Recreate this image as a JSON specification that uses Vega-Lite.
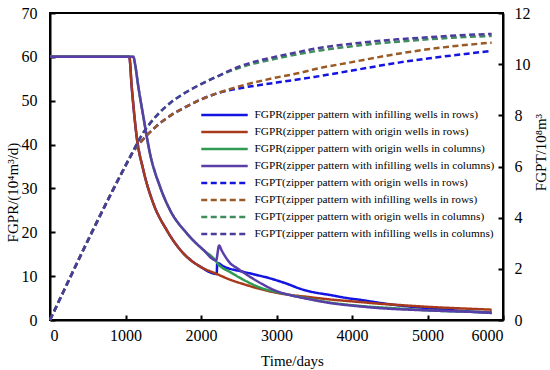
{
"$schema": "https://vega.github.io/schema/vega-lite/v6.json",
"width": 453, "height": 307,
"autosize": {"type": "none"},
"padding": {"left": 50, "top": 13, "right": 47, "bottom": 50},
"background": "white",
"config": {
  "view": {"stroke": "black", "strokeWidth": 2},
  "font": "Liberation Serif",
  "style": {"guide-title": {"fontWeight": "normal", "font": "Liberation Serif"}, "guide-label": {"font": "Liberation Serif"}},
  "axis": {"domainColor": "black", "domainWidth": 2, "tickColor": "black", "tickWidth": 2, "tickSize": -5, "labelFont": "Liberation Serif", "labelFontSize": 16, "labelColor": "black", "titleFont": "Liberation Serif", "titleFontSize": 15, "titleFontWeight": "normal", "titleColor": "black", "grid": false, "labelPadding": 14}
},
"data": {"values": [
{"s":"FGPR(zipper pattern with infilling wells in rows)","d":0,"v":60},
{"s":"FGPR(zipper pattern with infilling wells in rows)","d":1050,"v":60},
{"s":"FGPR(zipper pattern with infilling wells in rows)","d":1082,"v":53.2},
{"s":"FGPR(zipper pattern with infilling wells in rows)","d":1148,"v":41.8},
{"s":"FGPR(zipper pattern with infilling wells in rows)","d":1236,"v":34.2},
{"s":"FGPR(zipper pattern with infilling wells in rows)","d":1368,"v":26.6},
{"s":"FGPR(zipper pattern with infilling wells in rows)","d":1546,"v":20.5},
{"s":"FGPR(zipper pattern with infilling wells in rows)","d":1766,"v":15.2},
{"s":"FGPR(zipper pattern with infilling wells in rows)","d":1987,"v":12.2},
{"s":"FGPR(zipper pattern with infilling wells in rows)","d":2208,"v":10.5},
{"s":"FGPR(zipper pattern with infilling wells in rows)","d":2215,"v":13.0},
{"s":"FGPR(zipper pattern with infilling wells in rows)","d":2300,"v":12.2},
{"s":"FGPR(zipper pattern with infilling wells in rows)","d":2560,"v":11.0},
{"s":"FGPR(zipper pattern with infilling wells in rows)","d":2800,"v":10.0},
{"s":"FGPR(zipper pattern with infilling wells in rows)","d":2914,"v":9.5},
{"s":"FGPR(zipper pattern with infilling wells in rows)","d":2990,"v":9.1},
{"s":"FGPR(zipper pattern with infilling wells in rows)","d":3100,"v":8.5},
{"s":"FGPR(zipper pattern with infilling wells in rows)","d":3179,"v":8.0},
{"s":"FGPR(zipper pattern with infilling wells in rows)","d":3300,"v":7.2},
{"s":"FGPR(zipper pattern with infilling wells in rows)","d":3444,"v":6.5},
{"s":"FGPR(zipper pattern with infilling wells in rows)","d":3709,"v":5.7},
{"s":"FGPR(zipper pattern with infilling wells in rows)","d":3974,"v":4.9},
{"s":"FGPR(zipper pattern with infilling wells in rows)","d":4106,"v":4.6},
{"s":"FGPR(zipper pattern with infilling wells in rows)","d":4371,"v":3.9},
{"s":"FGPR(zipper pattern with infilling wells in rows)","d":4636,"v":3.3},
{"s":"FGPR(zipper pattern with infilling wells in rows)","d":5000,"v":2.7},
{"s":"FGPR(zipper pattern with infilling wells in rows)","d":5500,"v":2.0},
{"s":"FGPR(zipper pattern with infilling wells in rows)","d":5850,"v":1.6},
{"s":"FGPR(zipper pattern with origin wells in rows)","d":0,"v":60},
{"s":"FGPR(zipper pattern with origin wells in rows)","d":1050,"v":60},
{"s":"FGPR(zipper pattern with origin wells in rows)","d":1082,"v":53.2},
{"s":"FGPR(zipper pattern with origin wells in rows)","d":1148,"v":41.8},
{"s":"FGPR(zipper pattern with origin wells in rows)","d":1236,"v":34.2},
{"s":"FGPR(zipper pattern with origin wells in rows)","d":1368,"v":26.6},
{"s":"FGPR(zipper pattern with origin wells in rows)","d":1546,"v":20.5},
{"s":"FGPR(zipper pattern with origin wells in rows)","d":1766,"v":15.2},
{"s":"FGPR(zipper pattern with origin wells in rows)","d":1987,"v":12.2},
{"s":"FGPR(zipper pattern with origin wells in rows)","d":2208,"v":10.5},
{"s":"FGPR(zipper pattern with origin wells in rows)","d":2400,"v":9.1},
{"s":"FGPR(zipper pattern with origin wells in rows)","d":2560,"v":8.2},
{"s":"FGPR(zipper pattern with origin wells in rows)","d":2800,"v":7.0},
{"s":"FGPR(zipper pattern with origin wells in rows)","d":3003,"v":6.2},
{"s":"FGPR(zipper pattern with origin wells in rows)","d":3444,"v":5.2},
{"s":"FGPR(zipper pattern with origin wells in rows)","d":3700,"v":4.7},
{"s":"FGPR(zipper pattern with origin wells in rows)","d":4106,"v":4.1},
{"s":"FGPR(zipper pattern with origin wells in rows)","d":4371,"v":3.7},
{"s":"FGPR(zipper pattern with origin wells in rows)","d":4636,"v":3.4},
{"s":"FGPR(zipper pattern with origin wells in rows)","d":5000,"v":3.0},
{"s":"FGPR(zipper pattern with origin wells in rows)","d":5500,"v":2.6},
{"s":"FGPR(zipper pattern with origin wells in rows)","d":5850,"v":2.35},
{"s":"FGPR(zipper pattern with origin wells in columns)","d":0,"v":60},
{"s":"FGPR(zipper pattern with origin wells in columns)","d":1104,"v":60},
{"s":"FGPR(zipper pattern with origin wells in columns)","d":1125,"v":58.5},
{"s":"FGPR(zipper pattern with origin wells in columns)","d":1170,"v":53.2},
{"s":"FGPR(zipper pattern with origin wells in columns)","d":1236,"v":46.4},
{"s":"FGPR(zipper pattern with origin wells in columns)","d":1324,"v":38},
{"s":"FGPR(zipper pattern with origin wells in columns)","d":1457,"v":30.4},
{"s":"FGPR(zipper pattern with origin wells in columns)","d":1589,"v":25.1},
{"s":"FGPR(zipper pattern with origin wells in columns)","d":1810,"v":19.8},
{"s":"FGPR(zipper pattern with origin wells in columns)","d":2030,"v":16},
{"s":"FGPR(zipper pattern with origin wells in columns)","d":2185,"v":13.7},
{"s":"FGPR(zipper pattern with origin wells in columns)","d":2225,"v":12.8},
{"s":"FGPR(zipper pattern with origin wells in columns)","d":2400,"v":10.8},
{"s":"FGPR(zipper pattern with origin wells in columns)","d":2560,"v":9.2},
{"s":"FGPR(zipper pattern with origin wells in columns)","d":2781,"v":7.4},
{"s":"FGPR(zipper pattern with origin wells in columns)","d":3000,"v":6.4},
{"s":"FGPR(zipper pattern with origin wells in columns)","d":3444,"v":4.8},
{"s":"FGPR(zipper pattern with origin wells in columns)","d":3700,"v":4.0},
{"s":"FGPR(zipper pattern with origin wells in columns)","d":4106,"v":3.2},
{"s":"FGPR(zipper pattern with origin wells in columns)","d":4636,"v":2.6},
{"s":"FGPR(zipper pattern with origin wells in columns)","d":5000,"v":2.2},
{"s":"FGPR(zipper pattern with origin wells in columns)","d":5500,"v":1.9},
{"s":"FGPR(zipper pattern with origin wells in columns)","d":5850,"v":1.75},
{"s":"FGPR(zipper pattern with infilling wells in columns)","d":0,"v":60},
{"s":"FGPR(zipper pattern with infilling wells in columns)","d":1104,"v":60},
{"s":"FGPR(zipper pattern with infilling wells in columns)","d":1125,"v":58.5},
{"s":"FGPR(zipper pattern with infilling wells in columns)","d":1170,"v":53.2},
{"s":"FGPR(zipper pattern with infilling wells in columns)","d":1236,"v":46.4},
{"s":"FGPR(zipper pattern with infilling wells in columns)","d":1324,"v":38},
{"s":"FGPR(zipper pattern with infilling wells in columns)","d":1457,"v":30.4},
{"s":"FGPR(zipper pattern with infilling wells in columns)","d":1589,"v":25.1},
{"s":"FGPR(zipper pattern with infilling wells in columns)","d":1810,"v":19.8},
{"s":"FGPR(zipper pattern with infilling wells in columns)","d":2030,"v":16},
{"s":"FGPR(zipper pattern with infilling wells in columns)","d":2200,"v":13.6},
{"s":"FGPR(zipper pattern with infilling wells in columns)","d":2240,"v":17.0},
{"s":"FGPR(zipper pattern with infilling wells in columns)","d":2270,"v":16.0},
{"s":"FGPR(zipper pattern with infilling wells in columns)","d":2320,"v":14.5},
{"s":"FGPR(zipper pattern with infilling wells in columns)","d":2384,"v":13.0},
{"s":"FGPR(zipper pattern with infilling wells in columns)","d":2480,"v":11.8},
{"s":"FGPR(zipper pattern with infilling wells in columns)","d":2600,"v":10.4},
{"s":"FGPR(zipper pattern with infilling wells in columns)","d":2800,"v":8.3},
{"s":"FGPR(zipper pattern with infilling wells in columns)","d":3000,"v":6.6},
{"s":"FGPR(zipper pattern with infilling wells in columns)","d":3200,"v":5.6},
{"s":"FGPR(zipper pattern with infilling wells in columns)","d":3444,"v":4.7},
{"s":"FGPR(zipper pattern with infilling wells in columns)","d":3700,"v":3.9},
{"s":"FGPR(zipper pattern with infilling wells in columns)","d":4106,"v":3.1},
{"s":"FGPR(zipper pattern with infilling wells in columns)","d":4371,"v":2.7},
{"s":"FGPR(zipper pattern with infilling wells in columns)","d":5000,"v":2.2},
{"s":"FGPR(zipper pattern with infilling wells in columns)","d":5500,"v":1.9},
{"s":"FGPR(zipper pattern with infilling wells in columns)","d":5850,"v":1.7},
{"s":"FGPT(zipper pattern with origin wells in rows)","d":0,"v":0},
{"s":"FGPT(zipper pattern with origin wells in rows)","d":1050,"v":6.3},
{"s":"FGPT(zipper pattern with origin wells in rows)","d":1100,"v":6.57},
{"s":"FGPT(zipper pattern with origin wells in rows)","d":1200,"v":6.95},
{"s":"FGPT(zipper pattern with origin wells in rows)","d":1400,"v":7.55},
{"s":"FGPT(zipper pattern with origin wells in rows)","d":1600,"v":8.0},
{"s":"FGPT(zipper pattern with origin wells in rows)","d":1800,"v":8.33},
{"s":"FGPT(zipper pattern with origin wells in rows)","d":2000,"v":8.62},
{"s":"FGPT(zipper pattern with origin wells in rows)","d":2200,"v":8.85},
{"s":"FGPT(zipper pattern with origin wells in rows)","d":2500,"v":9.05},
{"s":"FGPT(zipper pattern with origin wells in rows)","d":3000,"v":9.28},
{"s":"FGPT(zipper pattern with origin wells in rows)","d":3500,"v":9.5},
{"s":"FGPT(zipper pattern with origin wells in rows)","d":4000,"v":9.75},
{"s":"FGPT(zipper pattern with origin wells in rows)","d":4636,"v":10.07},
{"s":"FGPT(zipper pattern with origin wells in rows)","d":5000,"v":10.22},
{"s":"FGPT(zipper pattern with origin wells in rows)","d":5500,"v":10.4},
{"s":"FGPT(zipper pattern with origin wells in rows)","d":5850,"v":10.52},
{"s":"FGPT(zipper pattern with infilling wells in rows)","d":0,"v":0},
{"s":"FGPT(zipper pattern with infilling wells in rows)","d":1050,"v":6.3},
{"s":"FGPT(zipper pattern with infilling wells in rows)","d":1100,"v":6.57},
{"s":"FGPT(zipper pattern with infilling wells in rows)","d":1200,"v":6.95},
{"s":"FGPT(zipper pattern with infilling wells in rows)","d":1400,"v":7.55},
{"s":"FGPT(zipper pattern with infilling wells in rows)","d":1600,"v":8.0},
{"s":"FGPT(zipper pattern with infilling wells in rows)","d":1800,"v":8.33},
{"s":"FGPT(zipper pattern with infilling wells in rows)","d":2000,"v":8.62},
{"s":"FGPT(zipper pattern with infilling wells in rows)","d":2200,"v":8.85},
{"s":"FGPT(zipper pattern with infilling wells in rows)","d":2517,"v":9.14},
{"s":"FGPT(zipper pattern with infilling wells in rows)","d":3000,"v":9.48},
{"s":"FGPT(zipper pattern with infilling wells in rows)","d":3311,"v":9.66},
{"s":"FGPT(zipper pattern with infilling wells in rows)","d":3500,"v":9.8},
{"s":"FGPT(zipper pattern with infilling wells in rows)","d":4000,"v":10.08},
{"s":"FGPT(zipper pattern with infilling wells in rows)","d":4636,"v":10.42},
{"s":"FGPT(zipper pattern with infilling wells in rows)","d":5000,"v":10.58},
{"s":"FGPT(zipper pattern with infilling wells in rows)","d":5500,"v":10.75},
{"s":"FGPT(zipper pattern with infilling wells in rows)","d":5850,"v":10.84},
{"s":"FGPT(zipper pattern with origin wells in columns)","d":0,"v":0},
{"s":"FGPT(zipper pattern with origin wells in columns)","d":1104,"v":6.62},
{"s":"FGPT(zipper pattern with origin wells in columns)","d":1200,"v":7.15},
{"s":"FGPT(zipper pattern with origin wells in columns)","d":1400,"v":7.95},
{"s":"FGPT(zipper pattern with origin wells in columns)","d":1600,"v":8.5},
{"s":"FGPT(zipper pattern with origin wells in columns)","d":1800,"v":8.9},
{"s":"FGPT(zipper pattern with origin wells in columns)","d":2000,"v":9.22},
{"s":"FGPT(zipper pattern with origin wells in columns)","d":2200,"v":9.5},
{"s":"FGPT(zipper pattern with origin wells in columns)","d":2500,"v":9.85},
{"s":"FGPT(zipper pattern with origin wells in columns)","d":3000,"v":10.22},
{"s":"FGPT(zipper pattern with origin wells in columns)","d":3500,"v":10.5},
{"s":"FGPT(zipper pattern with origin wells in columns)","d":4000,"v":10.7},
{"s":"FGPT(zipper pattern with origin wells in columns)","d":4600,"v":10.88},
{"s":"FGPT(zipper pattern with origin wells in columns)","d":5000,"v":10.97},
{"s":"FGPT(zipper pattern with origin wells in columns)","d":5500,"v":11.06},
{"s":"FGPT(zipper pattern with origin wells in columns)","d":5850,"v":11.1},
{"s":"FGPT(zipper pattern with infilling wells in columns)","d":0,"v":0},
{"s":"FGPT(zipper pattern with infilling wells in columns)","d":1104,"v":6.62},
{"s":"FGPT(zipper pattern with infilling wells in columns)","d":1200,"v":7.15},
{"s":"FGPT(zipper pattern with infilling wells in columns)","d":1400,"v":7.95},
{"s":"FGPT(zipper pattern with infilling wells in columns)","d":1600,"v":8.5},
{"s":"FGPT(zipper pattern with infilling wells in columns)","d":1800,"v":8.9},
{"s":"FGPT(zipper pattern with infilling wells in columns)","d":2000,"v":9.22},
{"s":"FGPT(zipper pattern with infilling wells in columns)","d":2200,"v":9.5},
{"s":"FGPT(zipper pattern with infilling wells in columns)","d":2500,"v":9.9},
{"s":"FGPT(zipper pattern with infilling wells in columns)","d":3000,"v":10.3},
{"s":"FGPT(zipper pattern with infilling wells in columns)","d":3300,"v":10.48},
{"s":"FGPT(zipper pattern with infilling wells in columns)","d":3500,"v":10.6},
{"s":"FGPT(zipper pattern with infilling wells in columns)","d":4000,"v":10.8},
{"s":"FGPT(zipper pattern with infilling wells in columns)","d":4600,"v":10.97},
{"s":"FGPT(zipper pattern with infilling wells in columns)","d":5000,"v":11.05},
{"s":"FGPT(zipper pattern with infilling wells in columns)","d":5500,"v":11.14},
{"s":"FGPT(zipper pattern with infilling wells in columns)","d":5850,"v":11.18}
]},
"layer": [
  {
    "transform": [{"filter": "indexof(datum.s, 'FGPR') === 0"}],
    "mark": {"type": "line", "interpolate": "monotone", "strokeWidth": 2.5},
    "encoding": {
      "x": {"field": "d", "type": "quantitative", "scale": {"domain": [0, 6000]},
            "axis": {"title": "Time/days", "format": "d", "values": [0,1000,2000,3000,4000,5000,6000], "labelPadding": 12, "titleX": 242, "titleY": 33, "titleAnchor": "middle", "titleFontWeight": "normal", "titleFont": "Liberation Serif", "labelFont": "Liberation Serif"}},
      "y": {"field": "v", "type": "quantitative", "scale": {"domain": [0, 70]},
            "axis": {"title": "FGPR/(10⁴m³/d)", "format": "d", "values": [0,10,20,30,40,50,60,70], "titleX": -38, "titleY": 179, "titleAngle": -90, "titleBaseline": "middle", "labelPadding": 18, "titleFontWeight": "normal", "titleFont": "Liberation Serif", "labelFont": "Liberation Serif"}},
      "color": {"field": "s", "type": "nominal",
        "scale": {"domain": ["FGPR(zipper pattern with infilling wells in rows)","FGPR(zipper pattern with origin wells in rows)","FGPR(zipper pattern with origin wells in columns)","FGPR(zipper pattern with infilling wells in columns)","FGPT(zipper pattern with origin wells in rows)","FGPT(zipper pattern with infilling wells in rows)","FGPT(zipper pattern with origin wells in columns)","FGPT(zipper pattern with infilling wells in columns)"],
                  "range": ["#1414e0","#a83a1c","#2f9a52","#5a3ea8","#1414e0","#9a5a26","#3f8c5c","#4a3c9c"]},
        "legend": {"title": null, "orient": "none", "legendX": 165.5, "legendY": 93, "padding": 0, "symbolType": "M-3,0H3", "symbolSize": 240, "symbolStrokeWidth": 2.5, "labelOffset": 21, "labelFont": "Liberation Serif", "labelFontSize": 11.3, "labelColor": "black", "labelLimit": 400, "rowPadding": 2}},
      "strokeDash": {"field": "s", "type": "nominal",
        "scale": {"domain": ["FGPR(zipper pattern with infilling wells in rows)","FGPR(zipper pattern with origin wells in rows)","FGPR(zipper pattern with origin wells in columns)","FGPR(zipper pattern with infilling wells in columns)","FGPT(zipper pattern with origin wells in rows)","FGPT(zipper pattern with infilling wells in rows)","FGPT(zipper pattern with origin wells in columns)","FGPT(zipper pattern with infilling wells in columns)"],
                  "range": [[1,0],[1,0],[1,0],[1,0],[6,3.5],[6,3.5],[6,3.5],[6,3.5]]},
        "legend": {"title": null, "orient": "none", "legendX": 165.5, "legendY": 93, "padding": 0, "symbolType": "M-3,0H3", "symbolSize": 240, "symbolStrokeWidth": 2.5, "labelOffset": 21, "labelFont": "Liberation Serif", "labelFontSize": 11.3, "labelColor": "black", "labelLimit": 400, "rowPadding": 2}}
    }
  },
  {
    "transform": [{"filter": "indexof(datum.s, 'FGPT') === 0"}],
    "mark": {"type": "line", "interpolate": "monotone", "strokeWidth": 2.5},
    "encoding": {
      "x": {"field": "d", "type": "quantitative"},
      "y": {"field": "v", "type": "quantitative", "scale": {"domain": [0, 12]},
            "axis": {"orient": "right", "title": "FGPT/10⁸m³", "format": "d", "values": [0,2,4,6,8,10,12], "titleX": 37, "titleY": 139, "titleAngle": -90, "titleBaseline": "middle", "labelPadding": 16, "titleFontWeight": "normal", "titleFont": "Liberation Serif", "labelFont": "Liberation Serif"}},
      "color": {"field": "s", "type": "nominal"},
      "strokeDash": {"field": "s", "type": "nominal"}
    }
  }
],
"resolve": {"scale": {"y": "independent"}}
}
